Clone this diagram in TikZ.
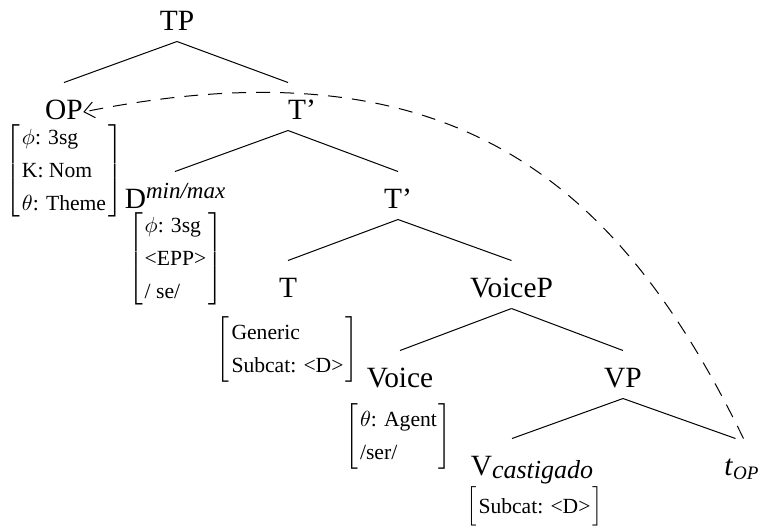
\documentclass[tikz,border=0pt]{standalone}
\usepackage{fontspec}
\setmainfont{Liberation Serif}
\usepackage{amsmath}
\usetikzlibrary{arrows.meta}
\newcommand{\fbig}{\fontsize{14.7}{17}\selectfont}
\newcommand{\fsmall}{\fontsize{10.8}{13}\selectfont}
\renewcommand{\arraystretch}{1.27}
\newcommand{\feats}[1]{$\left[\hspace{1pt}\begin{tabular}{@{}l@{}}#1\end{tabular}\hspace{1pt}\right]$}

\begin{document}
\begin{tikzpicture}[x=0.5pt,y=-0.5pt,line width=0.5pt]
      \tikzstyle{every node}+=[inner sep=0pt]
      \tikzstyle{cat}=[font=\fbig, anchor=base, text height=18pt, text depth=5.5pt]
      \tikzstyle{fm}=[font=\fsmall]
      \useasboundingbox (0,0) rectangle (770,527);
      % categories
      \node[cat] (tp) at (177,30) {TP};
      \node[cat] (op) at (64,119) {OP};
      \node[cat] (tb) at (302,119) {T’};
      \node[cat] (d) at (175,208) {D\raisebox{5pt}{\fontsize{11.5}{12}\selectfont\itshape min/max}};
      \node[cat] (tc) at (398,208) {T’};
      \node[cat] (t) at (288,297) {T};
      \node[cat] (voicep) at (511.5,297) {VoiceP};
      \node[cat] (voice) at (400,387) {Voice};
      \node[cat] (vp) at (623,387) {VP};
      \node[cat] (v) at (532,475) {V\raisebox{-1.5pt}{\fontsize{13}{14}\selectfont\itshape castigado}};
      \node[cat] (top) at (741.5,475) {\textit{t}\raisebox{-2pt}{\fontsize{9.5}{10}\selectfont\itshape OP}};
      % features
      \node[fm] (opf) at (64,171) {\feats{$\phi$: 3sg\\K: Nom\\$\theta$: Theme}};
      \node[fm] (df) at (175.5,259) {\feats{$\phi$: 3sg\\<EPP>\\/ se/}};
      \node[fm] (tf) at (287.5,349) {\feats{Generic\\Subcat: <D>}};
      \node[fm] (voicef) at (398.5,436) {\feats{$\theta$: Agent\\/ser/}};
      \node[fm] (vf) at (534.5,506.5) {\feats{Subcat: <D>}};
      % branches
      \draw (tp.south) -- (op.north);
      \draw (tp.south) -- ([xshift=-7pt]tb.north);
      \draw ([xshift=-7pt]tb.south) -- (d.north);
      \draw ([xshift=-7pt]tb.south) -- (tc.north);
      \draw (tc.south) -- (t.north);
      \draw (tc.south) -- (voicep.north);
      \draw (voicep.south) -- (voice.north);
      \draw (voicep.south) -- (vp.north);
      \draw (vp.south) -- ([xshift=-10pt]v.north);
      \draw (vp.south) -- ([xshift=-3pt]top.north);
      % movement
      \draw[dash pattern=on 7pt off 5pt, -{Straight Barb[length=5pt,width=8pt]}] ([xshift=1pt]top.north) .. controls (622,190) and (460,36) .. ([yshift=-2.75pt]op.east);
    \end{tikzpicture}
\end{document}
